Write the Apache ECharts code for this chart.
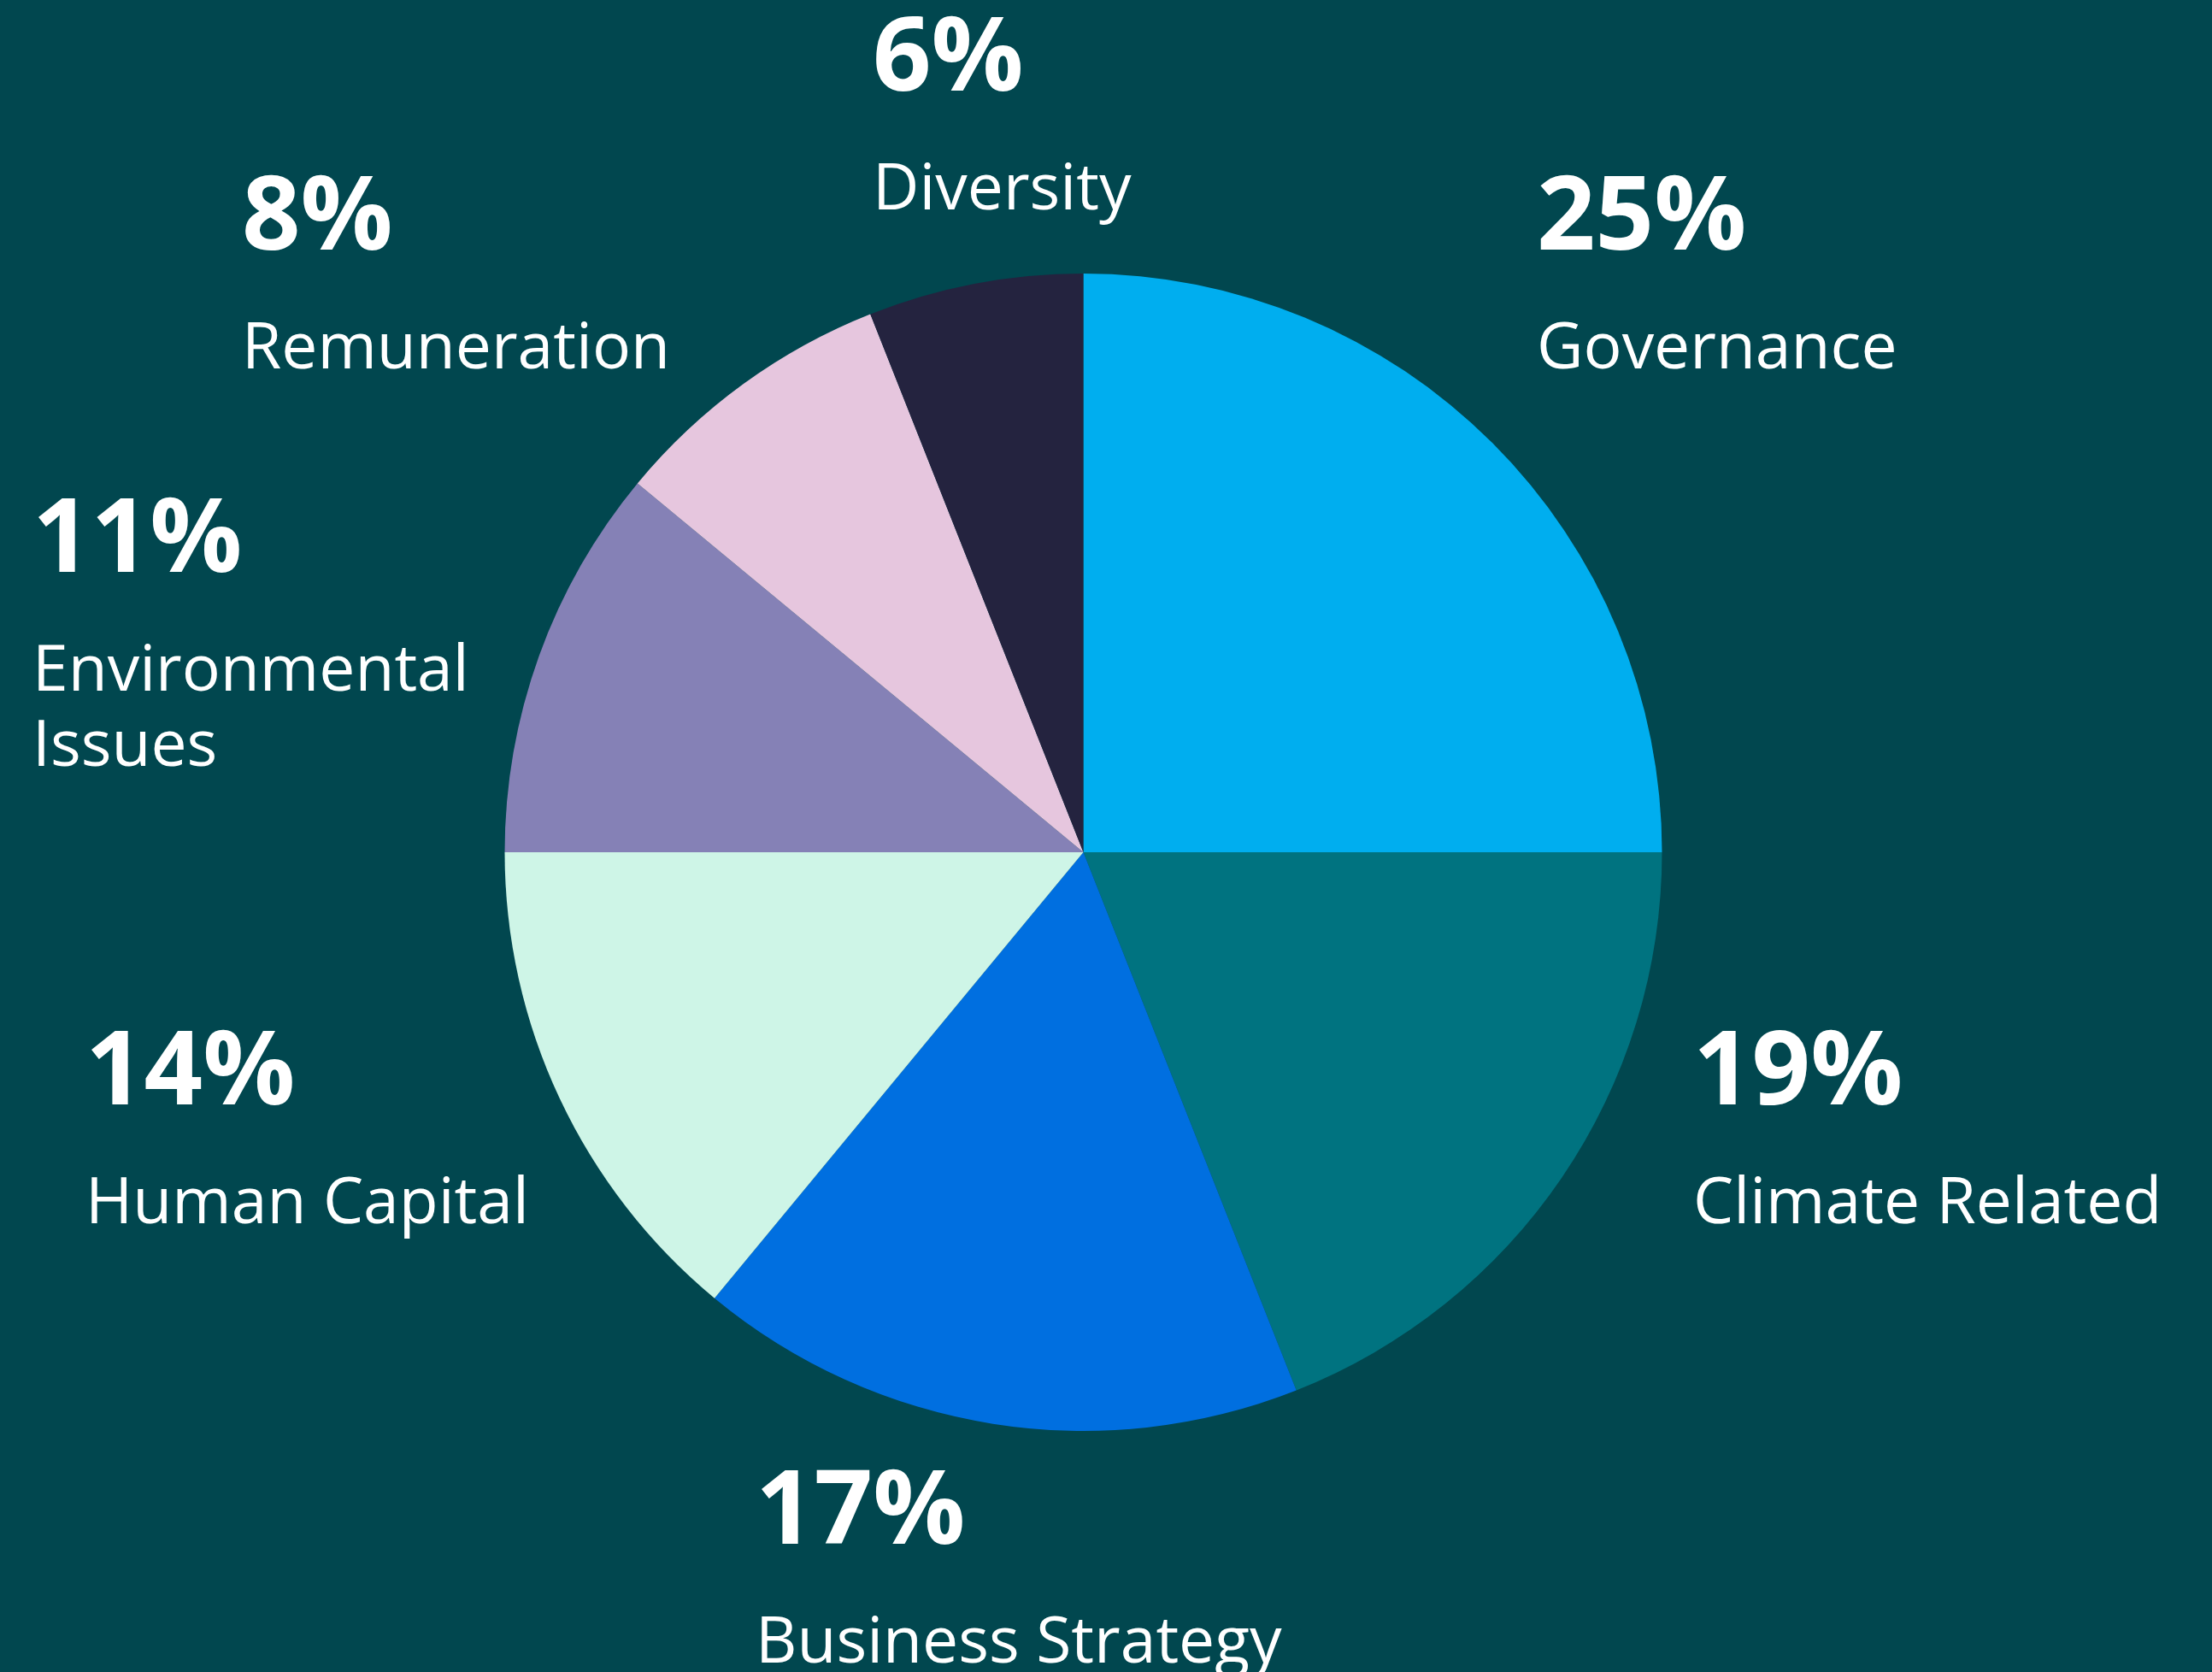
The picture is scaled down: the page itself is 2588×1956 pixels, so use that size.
<!DOCTYPE html>
<html>
<head>
<meta charset="utf-8">
<script src="https://cdn.jsdelivr.net/npm/echarts@6/dist/echarts.min.js"></script>
<style>
html, body { margin: 0; padding: 0; background: #01474f; }
#chart { width: 2588px; height: 1956px; }
</style>
</head>
<body>
<div id="chart"></div>
<script>
// topic shares, clockwise from 12 o'clock
var categories = ['Governance', 'Climate Related', 'Business Strategy', 'Human Capital', 'Environmental Issues', 'Remuneration', 'Diversity'];
var shares = [25, 19, 17, 14, 11, 8, 6];
var labelText = ['Governance', 'Climate Related', 'Business Strategy', 'Human Capital', 'Environmental\nIssues', 'Remuneration', 'Diversity'];

var sliceColors = ['#00aeef', '#007380', '#006fe0', '#cef5e7', '#8581b6', '#e6c6de', '#24233f'];
// top-left corner of each label block (px)
var labelPos = [[1798, 150], [1981, 1150], [884, 1664], [100, 1150], [38, 527], [283, 150], [1021, -36]];

var chart = echarts.init(document.getElementById('chart'));
chart.setOption({
    backgroundColor: '#01474f',
    color: sliceColors,
    animation: false,
    series: [
        {
            type: 'pie',
            center: [1267.5, 997],
            radius: 677,
            startAngle: 90,
            clockwise: true,
            avoidLabelOverlap: false,
            itemStyle: { borderWidth: 0 },
            data: categories.map(function (c, i) { return { name: c, value: shares[i] }; }),
            label: {
                show: true,
                position: 'outside',
                color: '#ffffff',
                fontFamily: 'Open Sans',
                formatter: function (p) {
                    return '{p|' + p.value + '%}\n{n|' + labelText[p.dataIndex] + '}';
                },
                rich: {
                    p: { fontSize: 120, fontWeight: 'bold', lineHeight: 216, color: '#ffffff', fontFamily: 'Open Sans' },
                    n: { fontSize: 75, lineHeight: 88, color: '#ffffff', fontFamily: 'Open Sans' }
                }
            },
            labelLine: { show: false },
            labelLayout: function (params) {
                var pos = labelPos[params.dataIndex];
                return { x: pos[0], y: pos[1], align: 'left', verticalAlign: 'top', moveOverlap: null };
            },
            emphasis: { disabled: true }
        }
    ]
});
</script>
</body>
</html>
